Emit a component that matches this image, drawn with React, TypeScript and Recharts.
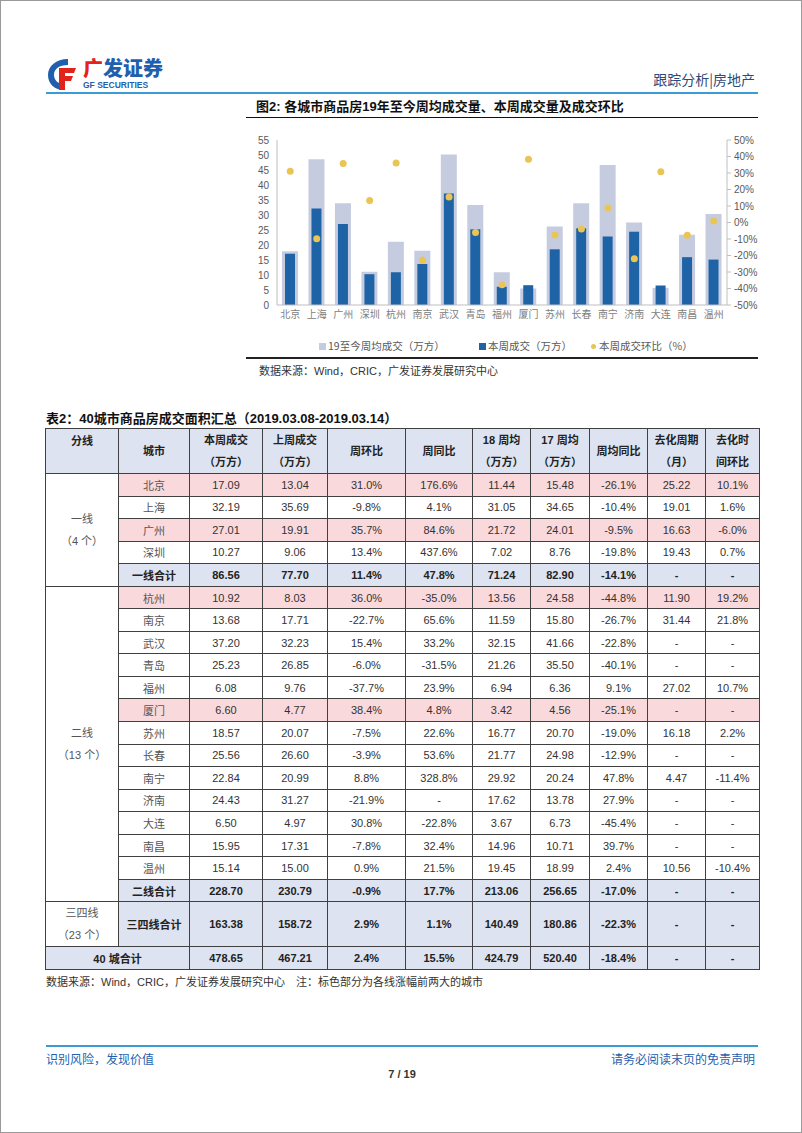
import React from "react";
import { ComposedChart, Bar, Line, XAxis, YAxis } from "recharts";

// chart data (figure 2)
const cities = ["北京", "上海", "广州", "深圳", "杭州", "南京", "武汉", "青岛", "福州", "厦门", "苏州", "长春", "南宁", "济南", "大连", "南昌", "温州"];
const ytdAvg = [17.9, 48.6, 33.9, 11.1, 21.1, 18.1, 50.2, 33.3, 10.9, 5.5, 26.2, 33.9, 46.7, 27.5, 5.7, 23.4, 30.3];
const thisWeek = [17.09, 32.19, 27.01, 10.27, 10.92, 13.68, 37.2, 25.23, 6.08, 6.6, 18.57, 25.56, 22.84, 24.43, 6.5, 15.95, 15.14];
const wow = [31.0, -9.8, 35.7, 13.4, 36.0, -22.7, 15.4, -6.0, -37.7, 38.4, -7.5, -3.9, 8.8, -21.9, 30.8, -7.8, 0.9];
const leftTicks = [0, 5, 10, 15, 20, 25, 30, 35, 40, 45, 50, 55];
const rightTicks = [-50, -40, -30, -20, -10, 0, 10, 20, 30, 40, 50];

// table data (table 2)
const lastWeek = [13.04, 35.69, 19.91, 9.06, 8.03, 17.71, 32.23, 26.85, 9.76, 4.77, 20.07, 26.6, 20.99, 31.27, 4.97, 17.31, 15.0];
const yoy = ["176.6%", "4.1%", "84.6%", "437.6%", "-35.0%", "65.6%", "33.2%", "-31.5%", "23.9%", "4.8%", "22.6%", "53.6%", "328.8%", "-", "-22.8%", "32.4%", "21.5%"];
const avg18 = [11.44, 31.05, 21.72, 7.02, 13.56, 11.59, 32.15, 21.26, 6.94, 3.42, 16.77, 21.77, 29.92, 17.62, 3.67, 14.96, 19.45];
const avg17 = [15.48, 34.65, 24.01, 8.76, 24.58, 15.8, 41.66, 35.5, 6.36, 4.56, 20.7, 24.98, 20.24, 13.78, 6.73, 10.71, 18.99];
const avgYoy = ["-26.1%", "-10.4%", "-9.5%", "-19.8%", "-44.8%", "-26.7%", "-22.8%", "-40.1%", "9.1%", "-25.1%", "-19.0%", "-12.9%", "47.8%", "27.9%", "-45.4%", "39.7%", "2.4%"];
const cycle = ["25.22", "19.01", "16.63", "19.43", "11.90", "31.44", "-", "-", "27.02", "-", "16.18", "-", "4.47", "-", "-", "-", "10.56"];
const cycleChg = ["10.1%", "1.6%", "-6.0%", "0.7%", "19.2%", "21.8%", "-", "-", "10.7%", "-", "2.2%", "-", "-11.4%", "-", "-", "-", "-10.4%"];
const highlighted = ["北京", "广州", "杭州", "厦门"];
const tier1Sum = ["86.56", "77.70", "11.4%", "47.8%", "71.24", "82.90", "-14.1%", "-", "-"];
const tier2Sum = ["228.70", "230.79", "-0.9%", "17.7%", "213.06", "256.65", "-17.0%", "-", "-"];
const tier34Sum = ["163.38", "158.72", "2.9%", "1.1%", "140.49", "180.86", "-22.3%", "-", "-"];
const totalSum = ["478.65", "467.21", "2.4%", "15.5%", "424.79", "520.40", "-18.4%", "-", "-"];

const chartData = cities.map((c, i) => ({ city: c, ytd: ytdAvg[i], week: thisWeek[i], wow: wow[i] }));

const FONT = '"Liberation Sans", Arial, "Noto Sans CJK SC", sans-serif';
const LAV = "#dde3f0";
const PINK = "#fad9dc";
const colWidths = [73, 71, 73, 65, 78, 67, 58, 59, 58, 58, 54];

const cell: React.CSSProperties = {
    border: "1px solid #404040",
    textAlign: "center",
    verticalAlign: "middle",
    padding: 0,
    fontSize: 11,
    color: "#333"
};

function cityRow(i: number, first?: React.ReactNode) {
    const bg = highlighted.includes(cities[i]) ? PINK : "#fff";
    const vals = [
        thisWeek[i].toFixed(2),
        lastWeek[i].toFixed(2),
        wow[i].toFixed(1) + "%",
        yoy[i],
        avg18[i].toFixed(2),
        avg17[i].toFixed(2),
        avgYoy[i],
        cycle[i],
        cycleChg[i]
    ];
    return (
        <tr key={cities[i]} style={{ height: 22.55 }}>
            {first}
            <td style={{ ...cell, background: bg, color: "#555" }}>{cities[i]}</td>
            {vals.map((v, k) => (
                <td key={k} style={{ ...cell, background: bg }}>{v}</td>
            ))}
        </tr>
    );
}

function sumCells(vals: string[]) {
    return vals.map((v, k) => (
        <td key={k} style={{ ...cell, background: LAV, fontWeight: 700, color: "#222" }}>{v}</td>
    ));
}

function Logo() {
    return (
        <div style={{ position: "absolute", left: 45, top: 55, width: 130, height: 36 }}>
            <svg width={32} height={36} style={{ position: "absolute", left: 0, top: 0 }}>
                <path d="M22 3 C10 3 2 10 2 19 C2 28 9 34 18 34 L18 28 C12 28 8 24 8 19 C8 13 13 9 22 9 Z" fill="#1f5fae" />
                <path d="M13 12 L30 12 L28 17 L19 17 L19 20 L27 20 L25 25 L19 25 L19 34 L13 34 Z" fill="#e2231a" />
            </svg>
            <div style={{ position: "absolute", left: 37, top: 0, fontFamily: '"Noto Sans CJK SC"', fontWeight: 900, fontSize: 20, color: "#1f5fae", lineHeight: "24px" }}>
                <span style={{ color: "#e2231a" }}>广</span>发证券
            </div>
            <div style={{ position: "absolute", left: 37, top: 24, fontFamily: FONT, fontWeight: 700, fontSize: 8.5, color: "#1f5fae", lineHeight: "10px" }}>
                GF SECURITIES
            </div>
        </div>
    );
}

function FigureChart() {
    return (
        <div style={{ position: "absolute", left: 246, top: 130 }}>
            <ComposedChart width={512} height={196} data={chartData} margin={{ top: 9, right: 0, bottom: 0, left: 0 }}>
                <XAxis
                    xAxisId={0}
                    dataKey="city"
                    interval={0}
                    height={22}
                    tickLine={false}
                    tickSize={4}
                    axisLine={{ stroke: "#bfbfbf" }}
                    tick={{ fontSize: 10, fill: "#808080", fontFamily: '"Noto Sans CJK SC"' }}
                />
                <XAxis xAxisId={1} dataKey="city" hide height={0} />
                <YAxis
                    yAxisId="left"
                    domain={[0, 55]}
                    ticks={leftTicks}
                    interval={0}
                    width={30}
                    tickLine={false}
                    axisLine={{ stroke: "#bfbfbf" }}
                    tick={{ fontSize: 10, fill: "#595959", fontFamily: FONT }}
                />
                <YAxis
                    yAxisId="right"
                    orientation="right"
                    domain={[-50, 50]}
                    ticks={rightTicks}
                    interval={0}
                    width={32}
                    tickSize={4}
                    tickMargin={3}
                    tickFormatter={(v) => `${v}%`}
                    stroke="#bfbfbf"
                    tick={{ fontSize: 10, fill: "#595959", fontFamily: FONT }}
                />
                <Bar xAxisId={1} yAxisId="left" dataKey="ytd" fill="#c6cce0" barSize={16} isAnimationActive={false} />
                <Bar xAxisId={0} yAxisId="left" dataKey="week" fill="#1f63a7" barSize={10} isAnimationActive={false} />
                <Line
                    xAxisId={0}
                    yAxisId="right"
                    dataKey="wow"
                    stroke="none"
                    dot={{ r: 3.5, fill: "#eac553", stroke: "none" }}
                    activeDot={false}
                    isAnimationActive={false}
                />
            </ComposedChart>
        </div>
    );
}

export default function App() {
    const tier1 = [0, 1, 2, 3];
    const tier2 = [4, 5, 6, 7, 8, 9, 10, 11, 12, 13, 14, 15, 16];
    const hdr: React.CSSProperties = { ...cell, background: LAV, fontWeight: 700, color: "#222", lineHeight: "22px" };
    const txt = (s: React.CSSProperties) => ({ position: "absolute" as const, fontFamily: FONT, whiteSpace: "nowrap" as const, ...s });

    return (
        <div style={{ position: "absolute", left: 0, top: 0, width: 802, height: 1133, background: "#fff", border: "1px solid #9a9a9a", boxSizing: "border-box", fontFamily: FONT }}>
            <Logo />
            <div style={txt({ right: 46, top: 68, fontSize: 14, color: "#2e4a78", fontFamily: '"Noto Sans CJK SC"' })}>跟踪分析|房地产</div>
            <div style={{ position: "absolute", left: 45, top: 91, width: 712, height: 2, background: "#3b9bd6" }} />

            <div style={txt({ left: 255, top: 95, fontSize: 13, fontWeight: 700, color: "#111" })}>图2: 各城市商品房19年至今周均成交量、本周成交量及成交环比</div>
            <div style={{ position: "absolute", left: 245, top: 116, width: 512, height: 1, background: "#111" }} />

            <FigureChart />

            <div style={txt({ left: 318, top: 337, fontSize: 10.5, color: "#595959", fontFamily: '"Noto Sans CJK SC"' })}>
                <span style={{ display: "inline-block", width: 7, height: 7, background: "#c6cce0", marginRight: 2 }} />19至今周均成交（万方）
            </div>
            <div style={txt({ left: 478, top: 337, fontSize: 10.5, color: "#595959", fontFamily: '"Noto Sans CJK SC"' })}>
                <span style={{ display: "inline-block", width: 7, height: 7, background: "#1f63a7", marginRight: 2 }} />本周成交（万方）
            </div>
            <div style={txt({ left: 590, top: 337, fontSize: 10.5, color: "#595959", fontFamily: '"Noto Sans CJK SC"' })}>
                <span style={{ display: "inline-block", width: 5, height: 5, borderRadius: 3, background: "#eac553", marginRight: 3, verticalAlign: 1 }} />本周成交环比（%）
            </div>
            <div style={{ position: "absolute", left: 245, top: 356, width: 512, height: 2, background: "#222" }} />
            <div style={txt({ left: 258, top: 361, fontSize: 11, color: "#333" })}>数据来源：Wind，CRIC，广发证券发展研究中心</div>

            <div style={txt({ left: 45, top: 407, fontSize: 13, fontWeight: 700, color: "#111" })}>表2：40城市商品房成交面积汇总（2019.03.08-2019.03.14）</div>

            <table style={{ position: "absolute", left: 44, top: 427, width: 714, borderCollapse: "collapse", tableLayout: "fixed", fontFamily: FONT }}>
                <colgroup>
                    {colWidths.map((w, i) => (
                        <col key={i} style={{ width: w }} />
                    ))}
                </colgroup>
                <tbody>
                    <tr style={{ height: 45 }}>
                        <td style={{ ...hdr, verticalAlign: "top", paddingTop: 1 }}>分线</td>
                        <td style={hdr}>城市</td>
                        <td style={hdr}>本周成交<br />（万方）</td>
                        <td style={hdr}>上周成交<br />（万方）</td>
                        <td style={hdr}>周环比</td>
                        <td style={hdr}>周同比</td>
                        <td style={hdr}>18 周均<br />（万方）</td>
                        <td style={hdr}>17 周均<br />（万方）</td>
                        <td style={hdr}>周均同比</td>
                        <td style={hdr}>去化周期<br />（月）</td>
                        <td style={hdr}>去化时<br />间环比</td>
                    </tr>
                    {tier1.map((i, k) =>
                        cityRow(
                            i,
                            k === 0 ? (
                                <td rowSpan={5} style={{ ...cell, color: "#555", lineHeight: "22px" }}>一线<br />（4 个）</td>
                            ) : undefined
                        )
                    )}
                    <tr style={{ height: 22.55 }}>
                        <td style={{ ...cell, background: LAV, fontWeight: 700, color: "#222" }}>一线合计</td>
                        {sumCells(tier1Sum)}
                    </tr>
                    {tier2.map((i, k) =>
                        cityRow(
                            i,
                            k === 0 ? (
                                <td rowSpan={14} style={{ ...cell, color: "#555", lineHeight: "22px" }}>二线<br />（13 个）</td>
                            ) : undefined
                        )
                    )}
                    <tr style={{ height: 22.55 }}>
                        <td style={{ ...cell, background: LAV, fontWeight: 700, color: "#222" }}>二线合计</td>
                        {sumCells(tier2Sum)}
                    </tr>
                    <tr style={{ height: 45 }}>
                        <td style={{ ...cell, color: "#555", lineHeight: "22px" }}>三四线<br />（23 个）</td>
                        <td style={{ ...cell, background: LAV, fontWeight: 700, color: "#222" }}>三四线合计</td>
                        {sumCells(tier34Sum)}
                    </tr>
                    <tr style={{ height: 22.55 }}>
                        <td colSpan={2} style={{ ...cell, background: LAV, fontWeight: 700, color: "#222" }}>40 城合计</td>
                        {sumCells(totalSum)}
                    </tr>
                </tbody>
            </table>

            <div style={txt({ left: 45, top: 972, fontSize: 11, color: "#333" })}>数据来源：Wind，CRIC，广发证券发展研究中心　注：标色部分为各线涨幅前两大的城市</div>

            <div style={{ position: "absolute", left: 45, top: 1044, width: 712, height: 2, background: "#3b9bd6" }} />
            <div style={txt({ left: 45, top: 1049, fontSize: 12, color: "#1f5fae", fontFamily: '"Noto Sans CJK SC"' })}>识别风险，发现价值</div>
            <div style={txt({ right: 46, top: 1049, fontSize: 12, color: "#1f5fae", fontFamily: '"Noto Sans CJK SC"' })}>请务必阅读末页的免责声明</div>
            <div style={txt({ left: 0, width: 802, textAlign: "center", top: 1067, fontSize: 11, color: "#333", fontWeight: 700 })}>7 / 19</div>
        </div>
    );
}
